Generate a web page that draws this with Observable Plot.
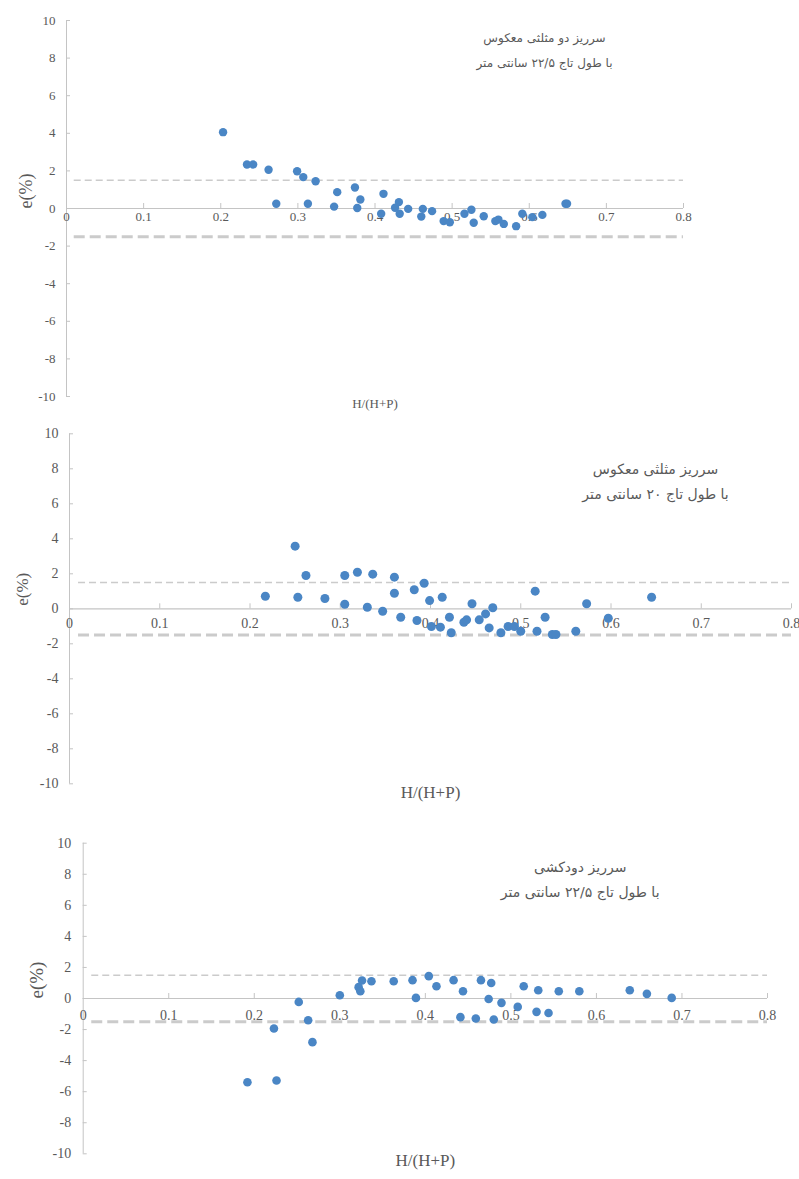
<!DOCTYPE html>
<html>
<head>
<meta charset="utf-8">
<script src="https://cdn.jsdelivr.net/npm/d3@7"></script>
<script src="https://cdn.jsdelivr.net/npm/@observablehq/plot@0.6"></script>
<style>
  html, body { margin: 0; padding: 0; background: #fff; }
  #root { position: relative; width: 799px; height: 1179px; overflow: hidden; }
  #root > div { position: absolute; left: 0; }
</style>
</head>
<body>
<div id="root"></div>
<script>
// ---------- data ----------
const xTicks = [0, 0.1, 0.2, 0.3, 0.4, 0.5, 0.6, 0.7, 0.8];
const xTickLabels = ["0", "0.1", "0.2", "0.3", "0.4", "0.5", "0.6", "0.7", "0.8"];
const yTicks = [-10, -8, -6, -4, -2, 0, 2, 4, 6, 8, 10];
const limitLines = [1.5, -1.5];
const xTitle = "H/(H+P)";
const yTitle = "e(%)";

// Panel 1 : سرریز دو مثلثی معکوس
const title1 = ["سرریز دو مثلثی معکوس", "با طول تاج ۲۲/۵ سانتی متر"];
const p1x = [0.203, 0.234, 0.242, 0.262, 0.272, 0.299, 0.307, 0.313, 0.323, 0.347,
             0.351, 0.374, 0.377, 0.381, 0.408, 0.411, 0.426, 0.431, 0.432, 0.443,
             0.462, 0.460, 0.474, 0.489, 0.497, 0.516, 0.525, 0.528, 0.541, 0.556,
             0.560, 0.567, 0.583, 0.591, 0.604, 0.617, 0.647, 0.649];
const p1y = [4.06, 2.34, 2.34, 2.06, 0.25, 1.98, 1.67, 0.25, 1.45, 0.10,
             0.87, 1.12, 0.03, 0.48, -0.28, 0.78, 0.04, 0.34, -0.28, -0.02,
             -0.02, -0.43, -0.14, -0.67, -0.73, -0.28, -0.07, -0.76, -0.41, -0.67,
             -0.59, -0.82, -0.94, -0.28, -0.46, -0.34, 0.25, 0.25];

// Panel 2 : سرریز مثلثی معکوس
const title2 = ["سرریز مثلثی معکوس", "با طول تاج ۲۰ سانتی متر"];
const p2x = [0.250, 0.262, 0.217, 0.253, 0.283, 0.305, 0.305, 0.319, 0.330, 0.336,
             0.347, 0.360, 0.360, 0.367, 0.382, 0.385, 0.393, 0.399, 0.401, 0.411,
             0.413, 0.421, 0.423, 0.437, 0.440, 0.446, 0.454, 0.461, 0.465, 0.469,
             0.478, 0.486, 0.493, 0.500, 0.516, 0.518, 0.527, 0.535, 0.539, 0.561,
             0.573, 0.597, 0.645];
const p2y = [3.58, 1.90, 0.72, 0.66, 0.59, 1.90, 0.26, 2.09, 0.09, 1.98,
             -0.14, 1.81, 0.89, -0.48, 1.09, -0.67, 1.46, 0.47, -1.01, -1.05,
             0.66, -0.48, -1.37, -0.77, -0.63, 0.29, -0.63, -0.29, -1.09, 0.06,
             -1.37, -1.01, -1.01, -1.28, 1.01, -1.28, -0.48, -1.47, -1.47, -1.28,
             0.29, -0.54, 0.66];

// Panel 3 : سرریز دودکشی
const title3 = ["سرریز دودکشی", "با طول تاج ۲۲/۵ سانتی متر"];
const p3x = [0.192, 0.226, 0.223, 0.252, 0.263, 0.268, 0.300, 0.322, 0.324, 0.326,
             0.337, 0.363, 0.385, 0.389, 0.404, 0.413, 0.433, 0.444, 0.441, 0.459,
             0.465, 0.477, 0.474, 0.480, 0.489, 0.508, 0.515, 0.530, 0.532, 0.544,
             0.556, 0.580, 0.639, 0.659, 0.688];
const p3y = [-5.39, -5.28, -1.93, -0.22, -1.40, -2.81, 0.21, 0.73, 0.47, 1.16,
             1.11, 1.11, 1.18, 0.04, 1.44, 0.79, 1.18, 0.47, -1.20, -1.29,
             1.18, 1.00, -0.03, -1.35, -0.28, -0.54, 0.79, -0.86, 0.53, -0.93,
             0.47, 0.47, 0.53, 0.30, 0.04];

// ---------- drawing ----------
const GRAY = "#595959";
const AXIS = "#c4c4c4";
const DOT = "#4a86c5";
const SERIF = "Liberation Serif, Times New Roman, serif";
const ARABIC = "DejaVu Sans, sans-serif";

function panel(cfg) {
  const pts = cfg.xs.map((x, i) => ({x, y: cfg.ys[i]}));
  const innerW = 799 - cfg.ml - cfg.mr;
  const innerH = cfg.height - cfg.mt - cfg.mb;
  const xPer = 0.8 / innerW;   // data units per pixel
  const yPer = 20 / innerH;
  const ticksX = xTicks.map((x, i) => ({x, label: xTickLabels[i]}));
  const plot = Plot.plot({
    width: 799,
    height: cfg.height,
    marginTop: cfg.mt,
    marginBottom: cfg.mb,
    marginLeft: cfg.ml,
    marginRight: cfg.mr,
    style: {background: "#fff", color: GRAY, fontFamily: SERIF, overflow: "visible"},
    x: {domain: [0, 0.8], axis: null},
    y: {domain: [-10, 10], axis: null},
    marks: [
      // y axis
      Plot.ruleX([0], {stroke: AXIS, strokeWidth: 1}),
      Plot.ruleY(yTicks, {x1: 0, x2: 4 * xPer, stroke: AXIS}),
      Plot.axisY(yTicks, {tickSize: 0, tickPadding: cfg.yPad, fontSize: cfg.tickFs,
        fill: GRAY, fontFamily: SERIF, label: null, tickFormat: d => String(d)}),
      // zero line
      Plot.ruleY([0], {x1: 0, x2: 0.8, stroke: AXIS, strokeWidth: 1.2}),
      Plot.ruleX(xTicks.slice(1), {y1: 0, y2: 5 * yPer, stroke: AXIS}),
      // limit lines
      Plot.ruleY([limitLines[0]], {x1: 0.01, x2: 0.8, stroke: "#cbcbcb", strokeWidth: 1.5, strokeDasharray: "7,4"}),
      Plot.ruleY([limitLines[1]], {x1: 0.01, x2: 0.8, stroke: "#cbcbcb", strokeWidth: 3, strokeDasharray: "11,5"}),
      // x tick labels
      Plot.text(ticksX, {x: "x", y: 0, text: "label", dy: cfg.xLabDy, fontSize: cfg.tickFs, fill: GRAY, fontFamily: SERIF}),
      // data
      Plot.dot(pts, {x: "x", y: "y", r: cfg.r, fill: DOT, stroke: null}),
      // axis titles
      Plot.text([xTitle], {frameAnchor: "bottom", dy: cfg.xTitleDy, fontSize: cfg.xTitleFs, fill: GRAY, fontFamily: SERIF}),
      Plot.text([yTitle], {frameAnchor: "left", dx: cfg.yTitleDx, dy: cfg.yTitleDy, rotate: -90, fontSize: cfg.yTitleFs, fill: GRAY, fontFamily: SERIF}),
      // chart title (two lines)
      Plot.text([cfg.title[0]], {frameAnchor: "top-left", dx: cfg.tDx, dy: cfg.tDy1, textAnchor: "middle", fontSize: cfg.tFs, fill: GRAY, fontFamily: ARABIC}),
      Plot.text([cfg.title[1]], {frameAnchor: "top-left", dx: cfg.tDx, dy: cfg.tDy2, textAnchor: "middle", fontSize: cfg.tFs, fill: GRAY, fontFamily: ARABIC})
    ]
  });
  const wrap = document.createElement("div");
  wrap.style.top = cfg.top + "px";
  wrap.appendChild(plot);
  document.getElementById("root").appendChild(wrap);
}

panel({xs: p1x, ys: p1y, title: title1, top: 0, height: 420, mt: 20, mb: 24, ml: 66, mr: 116,
  r: 4.2, tickFs: 13, yPad: 11, xLabDy: 8, xTitleDy: 11, xTitleFs: 13, yTitleDx: -40, yTitleDy: 0, yTitleFs: 18,
  tDx: 478, tDy1: 13, tDy2: 38, tFs: 12});

panel({xs: p2x, ys: p2y, title: title2, top: 420, height: 400, mt: 13.3, mb: 36.7, ml: 69, mr: 8,
  r: 4.5, tickFs: 14, yPad: 11, xLabDy: 15, xTitleDy: 14, xTitleFs: 17, yTitleDx: -47, yTitleDy: -3, yTitleFs: 17,
  tDx: 586, tDy1: 30, tDy2: 55, tFs: 14});

panel({xs: p3x, ys: p3y, title: title3, top: 820, height: 359, mt: 22.7, mb: 25.7, ml: 82.7, mr: 32,
  r: 4.3, tickFs: 14, yPad: 12, xLabDy: 17, xTitleDy: 12, xTitleFs: 17, yTitleDx: -46, yTitleDy: 0, yTitleFs: 19,
  tDx: 497, tDy1: 19, tDy2: 44, tFs: 14});
</script>
</body>
</html>
